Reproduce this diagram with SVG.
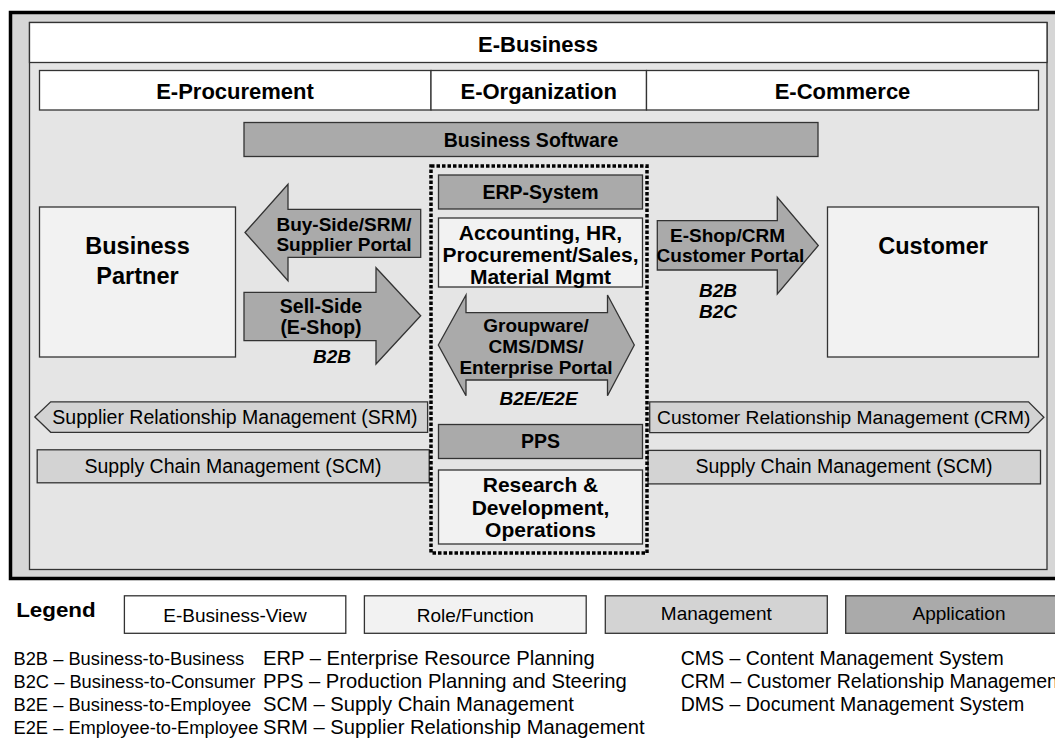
<svg xmlns="http://www.w3.org/2000/svg" width="1055" height="738" viewBox="0 0 1055 738">
<style>
text{font-family:"Liberation Sans",Arial,Helvetica,sans-serif;fill:#000;text-anchor:middle}
.b{font-weight:bold}
.i{font-weight:bold;font-style:italic}
.view{fill:#ffffff;stroke:#333;stroke-width:1.3}
.role{fill:#f2f2f2;stroke:#333;stroke-width:1.3}
.mgmt{fill:#d3d3d3;stroke:#333;stroke-width:1.3}
.app{fill:#aaaaaa;stroke:#333;stroke-width:1.3}
.lg{font-size:18.3px;text-anchor:start}
.lg2{font-size:20.2px;text-anchor:start}
.lg3{font-size:19.5px;text-anchor:start}
</style>
<rect width="1055" height="738" fill="#ffffff"/>
<g id="frame">
<rect x="10.5" y="12.5" width="1060" height="566" fill="#d6d6d6" stroke="#000" stroke-width="3.5"/>
<rect x="29.5" y="22.5" width="1017.5" height="547" fill="#e5e5e5" stroke="#333" stroke-width="1.3"/>
</g>
<g id="e-business">
<rect class="view" x="29.5" y="22.5" width="1017.5" height="40"/>
<text class="b" x="538" y="51.5" font-size="22">E-Business</text>
</g>
<g id="e-procurement">
<rect class="view" x="39.5" y="70.5" width="391.5" height="39.5"/>
<text class="b" x="235" y="99" font-size="22">E-Procurement</text>
</g>
<g id="e-organization">
<rect class="view" x="431" y="70.5" width="215.5" height="39.5"/>
<text class="b" x="538.7" y="99" font-size="22">E-Organization</text>
</g>
<g id="e-commerce">
<rect class="view" x="646.5" y="70.5" width="392" height="39.5"/>
<text class="b" x="842.5" y="99" font-size="22">E-Commerce</text>
</g>
<g id="business-software">
<rect class="app" x="244" y="122.5" width="574" height="34"/>
<text class="b" x="531" y="147" font-size="19.5">Business Software</text>
</g>
<g id="business-partner">
<rect class="role" x="39.5" y="207" width="196" height="150"/>
<text class="b" x="137.5" y="254" font-size="23.5">Business</text>
<text class="b" x="137.5" y="283.5" font-size="23.5">Partner</text>
</g>
<g id="customer">
<rect class="role" x="827.5" y="207" width="211" height="150"/>
<text class="b" x="933" y="254" font-size="23.5">Customer</text>
</g>
<g id="srm">
<polygon class="mgmt" points="34.8,417 50.7,401.8 427.6,401.8 427.6,432.3 50.7,432.3"/>
<text x="235" y="424" font-size="19.5">Supplier Relationship Management (SRM)</text>
</g>
<g id="scm-left">
<rect class="mgmt" x="37.2" y="449.8" width="392" height="33"/>
<text x="233" y="472.8" font-size="19.5">Supply Chain Management (SCM)</text>
</g>
<g id="crm">
<polygon class="mgmt" points="649.7,401.9 1028.5,401.9 1043.9,417.3 1028.5,432.7 649.7,432.7"/>
<text x="843.7" y="424" font-size="19.2">Customer Relationship Management (CRM)</text>
</g>
<g id="scm-right">
<rect class="mgmt" x="648" y="450.4" width="392.5" height="33.5"/>
<text x="844" y="473.3" font-size="19.5">Supply Chain Management (SCM)</text>
</g>
<g id="erp-system">
<rect class="app" x="438.5" y="175" width="204" height="34"/>
<text class="b" x="540.5" y="199" font-size="19.5">ERP-System</text>
</g>
<g id="erp-functions">
<rect class="role" x="438.5" y="218" width="204" height="69"/>
<text class="b" x="540.5" y="239.5" font-size="21">Accounting, HR,</text>
<text class="b" x="540.5" y="261.8" font-size="21">Procurement/Sales,</text>
<text class="b" x="540.5" y="283.5" font-size="21">Material Mgmt</text>
</g>
<g id="pps">
<rect class="app" x="438.5" y="424.5" width="204" height="34"/>
<text class="b" x="540.5" y="447.5" font-size="19.5">PPS</text>
</g>
<g id="research">
<rect class="role" x="438.5" y="470" width="204" height="74"/>
<text class="b" x="540.5" y="492.3" font-size="21">Research &amp;</text>
<text class="b" x="540.5" y="515" font-size="21">Development,</text>
<text class="b" x="540.5" y="537.3" font-size="21">Operations</text>
</g>
<g id="connectors">
<g id="buy-side">
<polygon class="app" points="245,232.5 288,184.3 288,209.3 420.7,209.3 420.7,257.3 288,257.3 288,280.7"/>
<text class="b" x="344" y="230.5" font-size="19">Buy-Side/SRM/</text>
<text class="b" x="344" y="251" font-size="19">Supplier Portal</text>
</g>
<g id="sell-side">
<polygon class="app" points="244,292.3 376,292.3 376,267.7 420.7,315.8 376,364 376,340.7 244,340.7"/>
<text class="b" x="321" y="312.7" font-size="19.5">Sell-Side</text>
<text class="b" x="321" y="334.3" font-size="19.5">(E-Shop)</text>
<text class="i" x="332" y="363.3" font-size="19">B2B</text>
</g>
<g id="groupware">
<polygon class="app" points="438.3,345 466,295 466,312.7 607.5,312.7 607.5,295 634.3,345 607.5,395.7 607.5,380 466,380 466,395.7"/>
<text class="b" x="536" y="331.7" font-size="19">Groupware/</text>
<text class="b" x="536" y="353.3" font-size="19">CMS/DMS/</text>
<text class="b" x="536" y="374" font-size="19">Enterprise Portal</text>
<text class="i" x="538.5" y="404.5" font-size="19">B2E/E2E</text>
</g>
<g id="e-shop">
<polygon class="app" points="657.3,220.7 777.3,220.7 777.3,197.3 818.3,245.5 777.3,294 777.3,270 657.3,270"/>
<text class="b" x="727.5" y="242.3" font-size="19">E-Shop/CRM</text>
<text class="b" x="730.5" y="261.7" font-size="19">Customer Portal</text>
<text class="i" x="718" y="297.3" font-size="19">B2B</text>
<text class="i" x="718" y="318.3" font-size="19">B2C</text>
</g>
</g>
<g id="organization-boundary">
<rect x="431" y="166" width="216" height="387" fill="none" stroke="#000" stroke-width="3.5" stroke-dasharray="3.5 2"/>
</g>
<g id="legend">
<text class="b" x="16.2" y="617" font-size="20" style="text-anchor:start" textLength="79.5" lengthAdjust="spacingAndGlyphs">Legend</text>
<g id="legend-view">
<rect class="view" x="124.4" y="595.8" width="221.4" height="37.5"/>
<text x="235" y="622" font-size="19">E-Business-View</text>
</g>
<g id="legend-role">
<rect class="role" x="364.4" y="595.8" width="221.8" height="37.5"/>
<text x="475.3" y="622" font-size="19">Role/Function</text>
</g>
<g id="legend-management">
<rect class="mgmt" x="605.3" y="595.8" width="222" height="37.5"/>
<text x="716.3" y="620.2" font-size="19">Management</text>
</g>
<g id="legend-application">
<rect class="app" x="845.7" y="595.8" width="230" height="37.5"/>
<text x="959" y="620.2" font-size="19">Application</text>
</g>
<g id="abbreviations">
<text class="lg" x="13.5" y="664.8">B2B – Business-to-Business</text>
<text class="lg" x="13.5" y="688">B2C – Business-to-Consumer</text>
<text class="lg" x="13.5" y="710.8">B2E – Business-to-Employee</text>
<text class="lg" x="13.5" y="733.6">E2E – Employee-to-Employee</text>
<text class="lg2" x="263" y="664.8">ERP – Enterprise Resource Planning</text>
<text class="lg2" x="263" y="688">PPS – Production Planning and Steering</text>
<text class="lg2" x="263" y="710.8">SCM – Supply Chain Management</text>
<text class="lg2" x="263" y="733.6">SRM – Supplier Relationship Management</text>
<text class="lg3" x="680.7" y="664.8">CMS – Content Management System</text>
<text class="lg3" x="680.7" y="688">CRM – Customer Relationship Management</text>
<text class="lg3" x="680.7" y="710.8">DMS – Document Management System</text>
</g>
</g>
</svg>
